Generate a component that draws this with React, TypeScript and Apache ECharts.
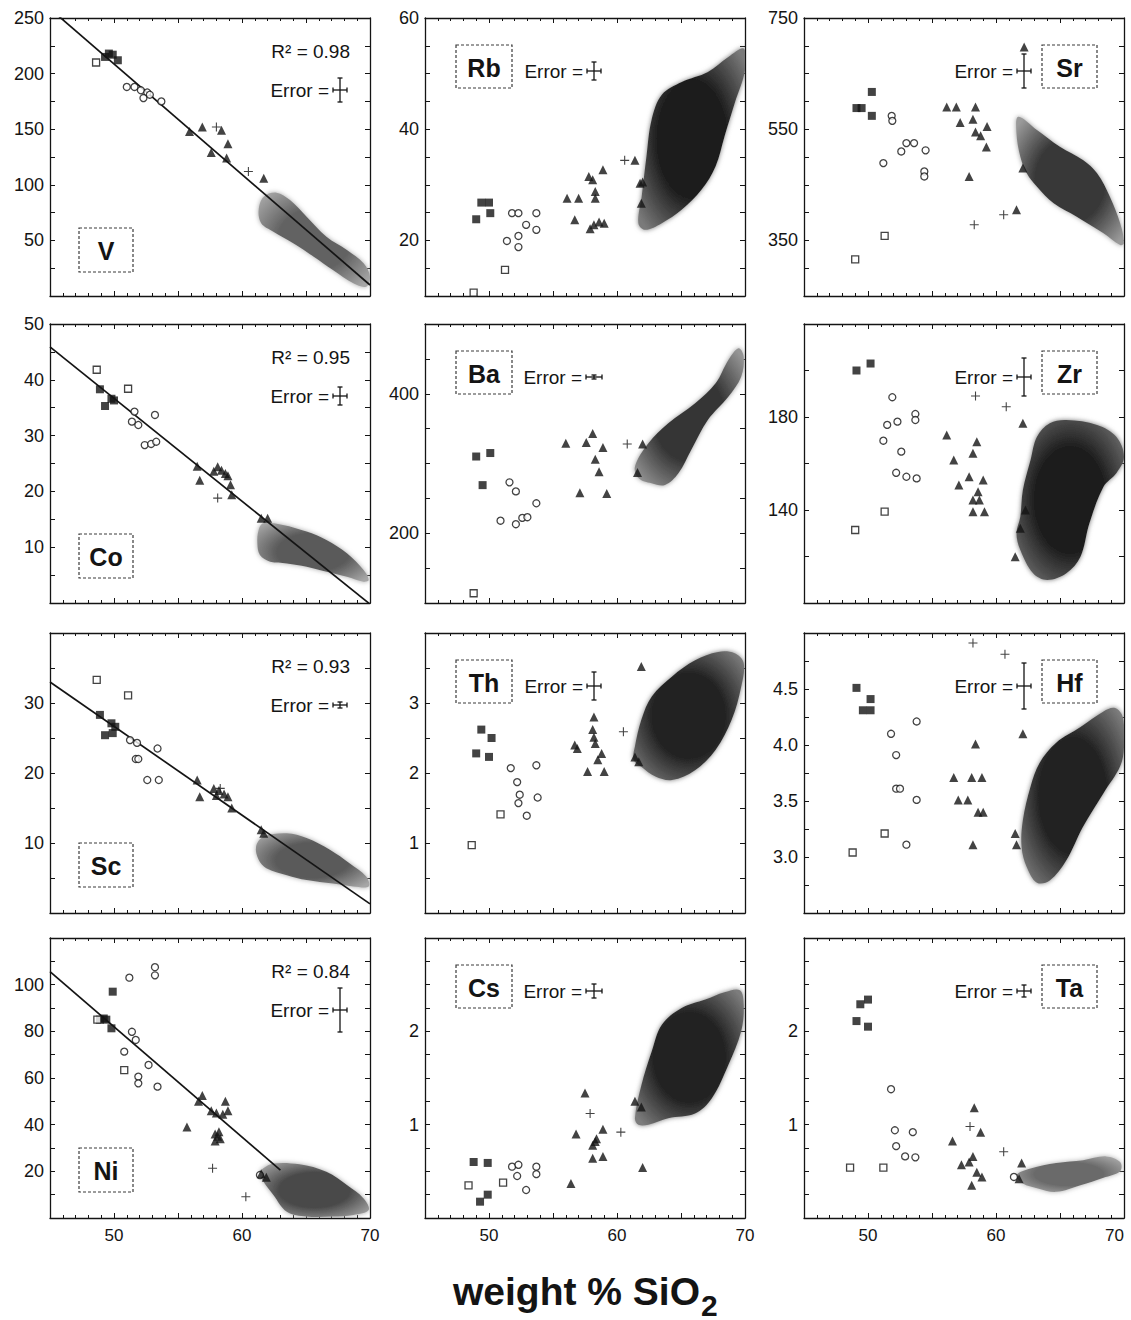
import React, { useEffect, useRef } from "react";
import * as echarts from "echarts";

// ---------------- data (x = weight % SiO2, y = element concentration) ----------------
const X_LABELS = [50, 60, 70];

// V
const V_SQF = [[49.3, 215], [49.6, 218], [49.9, 217], [50.3, 212]];
const V_SQO = [[48.6, 210]];
const V_CIRC = [[51.0, 188], [51.6, 188], [52.1, 185], [52.6, 183], [52.3, 178], [52.8, 181], [53.7, 175]];
const V_TRI = [[55.9, 148], [56.9, 152], [58.4, 149], [58.9, 137], [57.6, 129], [58.8, 124], [61.7, 106]];
const V_PLUS = [[58.0, 152], [60.5, 112]];
const V_FIELD = [[61.7, 89.3], [62.7, 92.9], [63.75, 86.3], [65.05, 71.3], [66.6, 53.3], [68.2, 41.4], [69.5, 29.4], [70, 17.4], [69.7, 8.4], [68.7, 11.4], [67.1, 23.4], [65.6, 35.4], [64.0, 47.4], [62.45, 57.8], [61.5, 65.4], [61.3, 77.3]];
const V_FIT = [[45, 258.4], [70, 9.9]];
const V_Y_LABELS = [50, 100, 150, 200, 250];

// Co
const CO_SQF = [[48.9, 38.3], [49.3, 35.3], [49.8, 36.6], [50.0, 36.3]];
const CO_SQO = [[48.65, 41.8], [51.1, 38.4]];
const CO_CIRC = [[51.6, 34.3], [53.2, 33.7], [51.4, 32.5], [51.9, 31.9], [52.4, 28.3], [52.9, 28.5], [53.3, 28.9]];
const CO_TRI = [[56.5, 24.5], [56.7, 22.0], [57.8, 23.6], [58.1, 24.4], [58.4, 23.8], [58.7, 23.2], [58.9, 22.8], [59.1, 21.2], [59.2, 19.4], [61.5, 15.2], [62.0, 15.2]];
const CO_PLUS = [[58.1, 18.8]];
const CO_FIELD = [[61.3, 13.1], [61.67, 14.3], [63.2, 14.0], [65.05, 12.8], [66.6, 11.3], [68.2, 8.9], [69.5, 5.9], [69.9, 4.1], [69.5, 3.8], [68.2, 4.7], [66.6, 5.6], [65.05, 6.5], [63.5, 7.1], [62.2, 7.4], [61.4, 8.6], [61.2, 10.7]];
const CO_FIT = [[45, 45.9], [70, -0.2]];
const CO_Y_LABELS = [10, 20, 30, 40, 50];

// Sc
const SC_SQF = [[48.9, 28.3], [49.3, 25.4], [49.9, 25.7], [49.8, 27.1], [50.1, 26.6]];
const SC_SQO = [[48.65, 33.3], [51.1, 31.1]];
const SC_CIRC = [[51.25, 24.7], [51.8, 24.3], [51.7, 22.0], [51.9, 22.0], [53.4, 23.5], [52.6, 19.0], [53.5, 19.0]];
const SC_TRI = [[56.5, 19.0], [56.7, 16.6], [57.8, 17.8], [58.2, 17.5], [58.6, 17.0], [58.9, 16.6], [58.0, 16.8], [59.2, 15.0], [61.5, 11.9], [61.7, 11.4]];
const SC_PLUS = [[58.3, 17.8]];
const SC_FIELD = [[61.1, 9.5], [61.67, 10.9], [63.5, 11.4], [65.05, 10.7], [66.9, 9.0], [68.4, 7.1], [69.7, 5.2], [69.9, 3.8], [68.7, 3.8], [67.1, 4.2], [65.05, 4.7], [63.5, 5.4], [61.9, 6.4], [61.3, 7.6]];
const SC_FIT = [[45, 33.0], [70, 1.3]];
const SC_Y_LABELS = [10, 20, 30];

// Ni
const NI_SQF = [[49.9, 97], [48.9, 85], [49.2, 85.5], [49.4, 85], [49.8, 81.3]];
const NI_SQO = [[48.7, 85], [50.8, 63.4]];
const NI_CIRC = [[51.2, 103], [53.2, 107.5], [53.2, 104], [51.4, 79.8], [51.7, 76.3], [50.8, 71.3], [52.7, 65.6], [51.9, 60.6], [51.9, 57.7], [53.4, 56.3], [61.4, 18.4]];
const NI_TRI = [[55.7, 39], [56.6, 50], [56.9, 52.5], [57.6, 46], [58.0, 45], [58.7, 50], [58.9, 46], [58.5, 44.5], [57.9, 36], [58.1, 35], [58.3, 34], [57.9, 33], [58.2, 37], [61.5, 19], [61.9, 17.5]];
const NI_PLUS = [[57.7, 21.3], [60.3, 9.1]];
const NI_FIELD = [[61.67, 21.3], [62.45, 23.4], [64.5, 23.0], [66.6, 19.8], [68.2, 14.1], [69.5, 8.4], [69.9, 3.4], [68.7, 1.3], [67.1, 0.6], [65.05, 0.6], [63.5, 2.7], [62.45, 9.9], [61.67, 15.6], [61.4, 19.2]];
const NI_FIT = [[45, 105.6], [63, 20.5]];
const NI_Y_LABELS = [20, 40, 60, 80, 100];

// Rb
const RB_SQF = [[49.4, 26.8], [50.0, 26.8], [50.1, 24.9], [49.0, 23.8]];
const RB_SQO = [[51.25, 14.7], [48.8, 10.6]];
const RB_CIRC = [[51.8, 24.9], [52.3, 24.9], [53.7, 24.9], [52.9, 22.8], [53.7, 21.9], [52.3, 20.8], [51.4, 19.9], [52.3, 18.8]];
const RB_TRI = [[56.1, 27.6], [57.0, 27.6], [56.7, 23.7], [57.8, 31.5], [58.1, 30.9], [58.9, 32.7], [58.3, 28.8], [58.3, 27.6], [57.9, 22.1], [58.2, 22.8], [58.6, 23.3], [59.0, 23.1], [61.4, 34.4], [61.8, 30.3], [62.0, 30.5], [61.9, 26.7]];
const RB_PLUS = [[60.6, 34.4]];
const RB_FIELD = [[61.67, 23.1], [61.93, 27.9], [62.3, 35.1], [62.7, 41.7], [63.5, 46.2], [65.05, 48.5], [67.1, 50.3], [68.7, 53.0], [69.9, 54.5], [70, 50.6], [69.2, 44.7], [68.4, 38.7], [67.7, 33.3], [66.6, 29.1], [65.05, 25.5], [63.5, 23.1], [62.2, 21.9]];
const RB_Y_LABELS = [20, 40, 60];

// Ba
const BA_SQF = [[49.0, 310], [50.1, 315], [49.5, 269]];
const BA_SQO = [[48.8, 114]];
const BA_CIRC = [[51.6, 273], [52.1, 260], [53.7, 243], [50.9, 218], [52.1, 213], [52.6, 222], [53.0, 223]];
const BA_TRI = [[56.0, 329], [57.6, 330], [58.1, 343], [58.9, 323], [58.3, 306], [58.6, 288], [57.1, 258], [59.2, 257], [62.0, 328], [61.6, 287]];
const BA_PLUS = [[60.8, 328]];
const BA_FIELD = [[61.4, 295.4], [62.45, 329], [64.0, 357.6], [66.1, 386.3], [67.7, 415], [68.7, 448.4], [69.5, 465.2], [69.9, 453], [69.7, 424.4], [68.7, 395.8], [67.1, 362.4], [65.8, 319.4], [64.8, 286], [63.75, 269.2], [62.7, 271.6], [61.7, 278.8]];
const BA_Y_LABELS = [200, 400];

// Th
const TH_SQF = [[49.4, 2.62], [50.2, 2.5], [49.0, 2.28], [50.0, 2.23]];
const TH_SQO = [[50.9, 1.41], [48.65, 0.97]];
const TH_CIRC = [[51.7, 2.07], [53.7, 2.11], [52.2, 1.87], [52.4, 1.69], [52.3, 1.57], [53.8, 1.65], [52.95, 1.39]];
const TH_TRI = [[56.7, 2.4], [56.9, 2.35], [58.2, 2.8], [58.1, 2.62], [58.2, 2.51], [58.3, 2.42], [58.8, 2.28], [58.5, 2.19], [57.7, 2.02], [59.0, 2.02], [61.9, 3.52], [61.4, 2.23], [61.7, 2.16]];
const TH_PLUS = [[60.5, 2.59]];
const TH_FIELD = [[61.4, 2.38], [61.9, 2.76], [62.7, 3.09], [64.3, 3.38], [66.1, 3.61], [67.9, 3.73], [69.2, 3.71], [69.9, 3.57], [69.7, 3.23], [68.96, 2.76], [67.7, 2.33], [66.1, 2.04], [64.3, 1.9], [63.0, 1.95], [61.9, 2.09], [61.3, 2.19]];
const TH_Y_LABELS = [1, 2, 3];

// Cs
const CS_SQF = [[48.8, 0.6], [49.9, 0.59], [49.3, 0.175], [49.9, 0.25]];
const CS_SQO = [[48.4, 0.35], [51.1, 0.38]];
const CS_CIRC = [[51.8, 0.55], [52.3, 0.57], [52.2, 0.45], [53.7, 0.55], [53.7, 0.47], [52.9, 0.3]];
const CS_TRI = [[57.5, 1.34], [56.8, 0.9], [58.9, 0.95], [58.3, 0.82], [58.1, 0.78], [58.4, 0.85], [58.1, 0.64], [58.9, 0.66], [56.4, 0.37], [62.0, 0.54], [61.4, 1.25], [61.9, 1.19]];
const CS_PLUS = [[57.9, 1.12], [60.3, 0.92]];
const CS_FIELD = [[61.4, 1.07], [61.9, 1.42], [62.7, 1.78], [63.5, 2.07], [65.05, 2.25], [66.9, 2.34], [68.4, 2.42], [69.6, 2.44], [69.9, 2.28], [69.7, 2.0], [68.7, 1.64], [67.4, 1.28], [66.1, 1.12], [64.0, 1.07], [62.45, 1.0], [61.67, 1.0]];
const CS_Y_LABELS = [1, 2];

// Sr
const SR_SQF = [[49.1, 588], [49.5, 588], [50.3, 617], [50.3, 574]];
const SR_SQO = [[51.3, 358], [49.0, 316]];
const SR_CIRC = [[51.85, 574], [51.9, 565], [53.0, 525], [53.6, 525], [52.6, 510], [54.5, 512], [51.2, 489], [54.4, 474], [54.4, 465]];
const SR_TRI = [[56.15, 590], [56.9, 590], [58.4, 590], [57.2, 562], [58.2, 568], [59.3, 555], [58.4, 545], [58.8, 538], [59.25, 518], [57.9, 465], [62.1, 480], [62.2, 698], [61.6, 405]];
const SR_PLUS = [[60.6, 396], [58.3, 378]];
const SR_FIELD = [[61.74, 572.5], [63.2, 548.6], [65.0, 518.5], [66.8, 494.6], [67.9, 470.7], [68.9, 428.6], [69.7, 380.7], [70, 344.8], [69.7, 341.7], [68.4, 362.7], [66.3, 392.6], [64.5, 416.7], [63.2, 446.6], [62.4, 470.7], [61.9, 500.6], [61.6, 542.6]];
const SR_Y_LABELS = [350, 550, 750];

// Zr
const ZR_SQF = [[49.1, 200], [50.2, 203]];
const ZR_SQO = [[51.3, 139.3], [49.0, 131.4]];
const ZR_CIRC = [[51.9, 188.5], [53.7, 181.3], [53.7, 178.7], [51.5, 176.6], [52.3, 178], [51.2, 169.8], [52.6, 165.1], [52.2, 156], [53.0, 154.3], [53.8, 153.6]];
const ZR_TRI = [[56.15, 172.3], [58.5, 169.4], [58.2, 164.4], [56.7, 161.5], [57.9, 154.3], [57.1, 150.8], [59.0, 152.9], [58.6, 147.9], [58.2, 144.3], [58.7, 144.3], [58.2, 139.3], [59.1, 139.3], [62.1, 177.3], [61.5, 119.9], [61.9, 132.1], [62.3, 140]];
const ZR_PLUS = [[58.4, 189], [60.8, 184.4]];
const ZR_FIELD = [[61.9, 137.1], [62.1, 148.6], [62.7, 161.5], [63.2, 171.5], [64.2, 177.3], [65.5, 178.7], [67.9, 176.6], [69.4, 171.5], [70, 162.9], [69.4, 155.8], [68.4, 150], [67.3, 134.3], [66.6, 119.9], [65.5, 112.8], [64.0, 109.9], [62.9, 112.8], [61.9, 122.8], [61.6, 130]];
const ZR_Y_LABELS = [140, 180];

// Hf
const HF_SQF = [[49.1, 4.51], [50.2, 4.41], [49.6, 4.31], [50.2, 4.31]];
const HF_SQO = [[51.3, 3.21], [48.8, 3.04]];
const HF_CIRC = [[51.8, 4.1], [53.8, 4.21], [52.2, 3.91], [52.2, 3.61], [52.5, 3.61], [53.8, 3.51], [53.0, 3.11]];
const HF_TRI = [[56.7, 3.71], [58.1, 3.71], [58.9, 3.71], [57.05, 3.51], [57.8, 3.51], [58.6, 3.4], [59.0, 3.4], [58.4, 4.01], [58.2, 3.11], [62.1, 4.1], [61.5, 3.21], [61.6, 3.11]];
const HF_PLUS = [[58.2, 4.91], [60.7, 4.81]];
const HF_FIELD = [[62.1, 3.33], [62.7, 3.63], [63.4, 3.84], [64.7, 4.02], [66.6, 4.16], [68.4, 4.3], [69.3, 4.33], [69.9, 4.25], [70, 3.98], [69.7, 3.81], [68.4, 3.57], [66.8, 3.27], [65.5, 2.97], [64.2, 2.79], [63.2, 2.77], [62.4, 2.91], [62.0, 3.09]];
const HF_Y_LABELS = [3.0, 3.5, 4.0, 4.5];

// Ta
const TA_SQF = [[49.4, 2.29], [50.0, 2.34], [49.1, 2.11], [50.0, 2.05]];
const TA_SQO = [[48.6, 0.54], [51.2, 0.54]];
const TA_CIRC = [[51.8, 1.38], [52.1, 0.94], [53.5, 0.92], [52.2, 0.77], [52.9, 0.66], [53.7, 0.65], [61.4, 0.44]];
const TA_TRI = [[58.3, 1.18], [58.8, 0.92], [56.6, 0.825], [57.3, 0.57], [57.9, 0.6], [58.2, 0.66], [58.5, 0.49], [58.9, 0.44], [58.1, 0.35], [62.0, 0.59], [61.8, 0.42]];
const TA_PLUS = [[57.97, 0.98], [60.6, 0.71]];
const TA_FIELD = [[61.6, 0.46], [62.7, 0.53], [64.7, 0.59], [66.8, 0.62], [68.6, 0.66], [69.7, 0.6], [69.7, 0.5], [68.4, 0.43], [66.6, 0.35], [64.7, 0.28], [63.2, 0.32], [62.1, 0.37]];
const TA_Y_LABELS = [1, 2];

// ---------------- layout / style ----------------
const FONT = '"Liberation Sans", Arial, Helvetica, sans-serif';
const COL_LEFT = [50, 425, 804];
const ROW_TOP = [18, 324, 633, 938];
const ROW_H = [278, 279, 280, 280];
const PANEL_W = 320;

type Panel = {
  el: string; col: number; row: number;
  yMin: number; yMax: number; yInt: number; yLabels: number[]; dec: number;
  sqF: number[][]; sqO: number[][]; circ: number[][]; tri: number[][]; plus: number[][];
  field: number[][]; shade: [string, string];
  fit?: number[][]; r2?: string; err: [number, number];
};

const PANELS: Panel[] = [
  { el: "V", col: 0, row: 0, yMin: 0, yMax: 250, yInt: 25, yLabels: V_Y_LABELS, dec: 0, sqF: V_SQF, sqO: V_SQO, circ: V_CIRC, tri: V_TRI, plus: V_PLUS, field: V_FIELD, shade: ["#626262", "#a6a6a6"], fit: V_FIT, r2: "0.98", err: [7, 12] },
  { el: "Rb", col: 1, row: 0, yMin: 10, yMax: 60, yInt: 5, yLabels: RB_Y_LABELS, dec: 0, sqF: RB_SQF, sqO: RB_SQO, circ: RB_CIRC, tri: RB_TRI, plus: RB_PLUS, field: RB_FIELD, shade: ["#1e1e1e", "#7a7a7a"], err: [7, 9] },
  { el: "Sr", col: 2, row: 0, yMin: 250, yMax: 750, yInt: 50, yLabels: SR_Y_LABELS, dec: 0, sqF: SR_SQF, sqO: SR_SQO, circ: SR_CIRC, tri: SR_TRI, plus: SR_PLUS, field: SR_FIELD, shade: ["#383838", "#9a9a9a"], err: [7, 17] },
  { el: "Co", col: 0, row: 1, yMin: 0, yMax: 50, yInt: 5, yLabels: CO_Y_LABELS, dec: 0, sqF: CO_SQF, sqO: CO_SQO, circ: CO_CIRC, tri: CO_TRI, plus: CO_PLUS, field: CO_FIELD, shade: ["#5a5a5a", "#a6a6a6"], fit: CO_FIT, r2: "0.95", err: [7, 9] },
  { el: "Ba", col: 1, row: 1, yMin: 100, yMax: 500, yInt: 50, yLabels: BA_Y_LABELS, dec: 0, sqF: BA_SQF, sqO: BA_SQO, circ: BA_CIRC, tri: BA_TRI, plus: BA_PLUS, field: BA_FIELD, shade: ["#363636", "#959595"], err: [8, 2] },
  { el: "Zr", col: 2, row: 1, yMin: 100, yMax: 220, yInt: 20, yLabels: ZR_Y_LABELS, dec: 0, sqF: ZR_SQF, sqO: ZR_SQO, circ: ZR_CIRC, tri: ZR_TRI, plus: ZR_PLUS, field: ZR_FIELD, shade: ["#1c1c1c", "#727272"], err: [7, 19] },
  { el: "Sc", col: 0, row: 2, yMin: 0, yMax: 40, yInt: 5, yLabels: SC_Y_LABELS, dec: 0, sqF: SC_SQF, sqO: SC_SQO, circ: SC_CIRC, tri: SC_TRI, plus: SC_PLUS, field: SC_FIELD, shade: ["#5a5a5a", "#a6a6a6"], fit: SC_FIT, r2: "0.93", err: [7, 3] },
  { el: "Th", col: 1, row: 2, yMin: 0, yMax: 4, yInt: 0.5, yLabels: TH_Y_LABELS, dec: 0, sqF: TH_SQF, sqO: TH_SQO, circ: TH_CIRC, tri: TH_TRI, plus: TH_PLUS, field: TH_FIELD, shade: ["#222222", "#7c7c7c"], err: [7, 14] },
  { el: "Hf", col: 2, row: 2, yMin: 2.5, yMax: 5, yInt: 0.25, yLabels: HF_Y_LABELS, dec: 1, sqF: HF_SQF, sqO: HF_SQO, circ: HF_CIRC, tri: HF_TRI, plus: HF_PLUS, field: HF_FIELD, shade: ["#222222", "#7c7c7c"], err: [7, 23] },
  { el: "Ni", col: 0, row: 3, yMin: 0, yMax: 120, yInt: 10, yLabels: NI_Y_LABELS, dec: 0, sqF: NI_SQF, sqO: NI_SQO, circ: NI_CIRC, tri: NI_TRI, plus: NI_PLUS, field: NI_FIELD, shade: ["#4a4a4a", "#a2a2a2"], fit: NI_FIT, r2: "0.84", err: [7, 22] },
  { el: "Cs", col: 1, row: 3, yMin: 0, yMax: 3, yInt: 0.25, yLabels: CS_Y_LABELS, dec: 0, sqF: CS_SQF, sqO: CS_SQO, circ: CS_CIRC, tri: CS_TRI, plus: CS_PLUS, field: CS_FIELD, shade: ["#222222", "#7c7c7c"], err: [8, 7] },
  { el: "Ta", col: 2, row: 3, yMin: 0, yMax: 3, yInt: 0.25, yLabels: TA_Y_LABELS, dec: 0, sqF: TA_SQF, sqO: TA_SQO, circ: TA_CIRC, tri: TA_TRI, plus: TA_PLUS, field: TA_FIELD, shade: ["#6a6a6a", "#ababab"], err: [7, 6] },
];

// label box [relX, relY, w, h] per column; error cross center [relX, relY] per column
const BOX = [[29, 210, 54, 44], [31, 27, 56, 43], [238, 27, 55, 43]];
const ERR_C = [[290, 72], [169, 53], [220, 53]];

const PLUS_PATH = "path://M4.4,0H5.6V4.4H10V5.6H5.6V10H4.4V5.6H0V4.4H4.4Z";
const INK = "#141414";

function buildOption() {
  const grids: any[] = [];
  const xAxes: any[] = [];
  const yAxes: any[] = [];
  const series: any[] = [];
  const graphics: any[] = [];

  PANELS.forEach((p, i) => {
    const gl = COL_LEFT[p.col];
    const gt = ROW_TOP[p.row];
    const gh = ROW_H[p.row];
    grids.push({ left: gl, top: gt, width: PANEL_W, height: gh, containLabel: false, outerBoundsMode: "none", show: false });

    const tickStyle = { color: INK, width: 1 };
    const xBase = {
      gridIndex: i, type: "value", min: 45, max: 70, interval: 5,
      splitLine: { show: false },
      axisLine: { show: true, onZero: false, lineStyle: { color: INK, width: 1.3 } },
      axisTick: { show: true, inside: true, length: 5, lineStyle: tickStyle },
      minorTick: { show: true, inside: true, splitNumber: 5, length: 3, lineStyle: tickStyle },
      minorSplitLine: { show: false },
    };
    xAxes.push({
      ...xBase, position: "bottom",
      axisLabel: {
        show: p.row === 3, margin: 9, fontSize: 17, color: INK, fontFamily: FONT,
        alignMaxLabel: p.col === 2 ? "right" : undefined,
        formatter: (v: number) => (X_LABELS.indexOf(Math.round(v)) >= 0 && Math.abs(v - Math.round(v)) < 1e-6 ? String(Math.round(v)) : ""),
      },
    });
    xAxes.push({ ...xBase, position: "top", axisLabel: { show: false } });

    const yBase = {
      gridIndex: i, type: "value", min: p.yMin, max: p.yMax, interval: p.yInt,
      splitLine: { show: false },
      axisLine: { show: true, onZero: false, lineStyle: { color: INK, width: 1.3 } },
      axisTick: { show: true, inside: true, length: 5, lineStyle: tickStyle },
    };
    yAxes.push({
      ...yBase, position: "left",
      axisLabel: {
        show: true, margin: 6, fontSize: 18, color: INK, fontFamily: FONT,
        formatter: (v: number) => (p.yLabels.some((l) => Math.abs(l - v) < 1e-6) ? v.toFixed(p.dec) : ""),
      },
    });
    yAxes.push({ ...yBase, position: "right", axisLabel: { show: false } });

    const ax = { xAxisIndex: 2 * i, yAxisIndex: 2 * i };
    const field = p.field;
    const shade = p.shade;
    series.push({
      type: "custom", ...ax, clip: true, z: 1, silent: true,
      data: [field[0]],
      renderItem: (_params: any, api: any) => {
        const pts = field.map((q) => api.coord(q));
        return {
          type: "polygon",
          shape: { points: pts, smooth: 0.35 },
          style: {
            fill: {
              type: "radial", x: 0.5, y: 0.5, r: 0.65,
              colorStops: [{ offset: 0, color: shade[0] }, { offset: 0.5, color: shade[0] }, { offset: 1, color: shade[1] }],
            },
            shadowBlur: 5, shadowColor: shade[1],
          },
        };
      },
    });
    if (p.fit) {
      series.push({ type: "line", ...ax, data: p.fit, symbol: "none", clip: true, z: 3, silent: true, lineStyle: { color: INK, width: 1.7 } });
    }
    const scat = (data: number[][], symbol: string, size: number, filled: boolean) => ({
      type: "scatter", ...ax, data, symbol, symbolSize: size, z: 4, silent: true, clip: true,
      itemStyle: filled ? { color: INK } : { color: "#ffffff", borderColor: INK, borderWidth: 1.3 },
    });
    series.push(scat(p.sqF, "rect", 8, true));
    series.push(scat(p.sqO, "rect", 7, false));
    series.push(scat(p.circ, "circle", 7, false));
    series.push(scat(p.tri, "triangle", 9, true));
    series.push(scat(p.plus, PLUS_PATH, 9, true));

    // element label box
    const b = BOX[p.col];
    graphics.push({
      type: "rect", silent: true, z: 10,
      shape: { x: gl + b[0], y: gt + b[1], width: b[2], height: b[3] },
      style: { fill: "none", stroke: "#3a3a3a", lineWidth: 1.2, lineDash: [3, 2] },
    });
    graphics.push({
      type: "text", silent: true, z: 11, x: gl + b[0] + b[2] / 2, y: gt + b[1] + b[3] / 2 + 1,
      style: { text: p.el, fontSize: 25, fontWeight: "bold", fontFamily: FONT, fill: INK, align: "center", verticalAlign: "middle", textAlign: "center", textVerticalAlign: "middle" },
    });
    // R^2
    if (p.r2) {
      graphics.push({
        type: "text", silent: true, z: 11, x: gl + 300, y: gt + 33,
        style: { text: "R\u00B2 = " + p.r2, fontSize: 19, fontFamily: FONT, fill: INK, align: "right", verticalAlign: "middle", textAlign: "right", textVerticalAlign: "middle" },
      });
    }
    // error cross
    const c = ERR_C[p.col];
    const cx = gl + c[0];
    const cy = gt + c[1];
    const [hw, hh] = p.err;
    graphics.push({
      type: "text", silent: true, z: 11, x: cx - hw - 4, y: cy,
      style: { text: "Error =", fontSize: 19, fontFamily: FONT, fill: INK, align: "right", verticalAlign: "middle", textAlign: "right", textVerticalAlign: "middle" },
    });
    const ls = { stroke: INK, lineWidth: 1.3 };
    const seg = (x1: number, y1: number, x2: number, y2: number) => ({ type: "line", silent: true, z: 11, shape: { x1, y1, x2, y2 }, style: ls });
    graphics.push(seg(cx, cy - hh, cx, cy + hh));
    graphics.push(seg(cx - hw, cy, cx + hw, cy));
    graphics.push(seg(cx - 2.5, cy - hh, cx + 2.5, cy - hh));
    graphics.push(seg(cx - 2.5, cy + hh, cx + 2.5, cy + hh));
    graphics.push(seg(cx - hw, cy - 2.5, cx - hw, cy + 2.5));
    graphics.push(seg(cx + hw, cy - 2.5, cx + hw, cy + 2.5));
  });

  // x-axis title
  graphics.push({
    type: "text", silent: true, x: 700, y: 1291,
    style: { text: "weight % SiO", fontSize: 39, fontWeight: "bold", fontFamily: FONT, fill: INK, align: "right", verticalAlign: "middle", textAlign: "right", textVerticalAlign: "middle" },
  });
  graphics.push({
    type: "text", silent: true, x: 701, y: 1305,
    style: { text: "2", fontSize: 30, fontWeight: "bold", fontFamily: FONT, fill: INK, align: "left", verticalAlign: "middle", textAlign: "left", textVerticalAlign: "middle" },
  });

  return {
    animation: false,
    backgroundColor: "#ffffff",
    grid: grids,
    xAxis: xAxes,
    yAxis: yAxes,
    series,
    graphic: { elements: graphics },
  };
}

export default function App() {
  const ref = useRef<HTMLDivElement>(null);
  useEffect(() => {
    document.body.style.margin = "0";
    if (!ref.current) return;
    const chart = echarts.init(ref.current, null, { renderer: "svg" });
    chart.setOption(buildOption() as any);
    return () => chart.dispose();
  }, []);
  return <div ref={ref} style={{ width: 1131, height: 1320, background: "#fff" }} />;
}
